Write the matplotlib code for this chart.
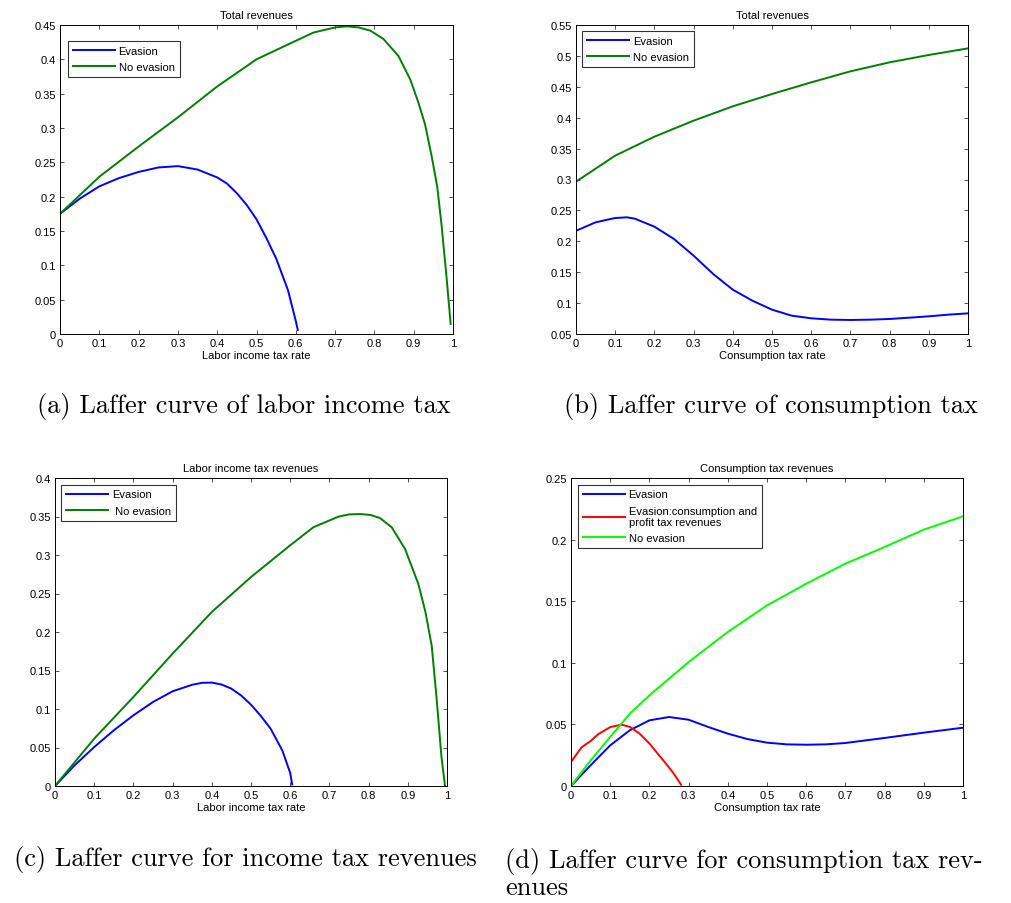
import matplotlib
matplotlib.use("Agg")
import matplotlib.pyplot as plt
from matplotlib.ticker import FuncFormatter

plt.rcParams["font.family"] = ["Liberation Sans", "DejaVu Sans"]

# (a) total revenues vs labor income tax rate
a_x_ev = [0, 0.05, 0.1, 0.15, 0.2, 0.25, 0.3, 0.35, 0.4, 0.425, 0.45, 0.475, 0.5, 0.525, 0.55,
          0.58, 0.6, 0.605]
a_ev = [0.175, 0.197, 0.215, 0.227, 0.236, 0.2425, 0.2445, 0.2395, 0.228, 0.219, 0.205, 0.188,
        0.167, 0.14, 0.11, 0.064, 0.019, 0.006]
a_x_ne = [0, 0.1, 0.2, 0.3, 0.4, 0.5, 0.6, 0.645, 0.7, 0.73, 0.76, 0.79, 0.823, 0.861, 0.891,
          0.912, 0.929, 0.946, 0.96, 0.971, 0.984, 0.994]
a_ne = [0.175, 0.229, 0.273, 0.3155, 0.3605, 0.400, 0.427, 0.439, 0.4465, 0.448, 0.4465, 0.4417,
        0.4296, 0.405, 0.371, 0.337, 0.305, 0.258, 0.214, 0.158, 0.080, 0.0146]

# (b) total revenues vs consumption tax rate
b_x_ev = [0, 0.05, 0.1, 0.13, 0.15, 0.2, 0.25, 0.3, 0.35, 0.4, 0.45, 0.5, 0.55, 0.6, 0.65, 0.7,
          0.75, 0.8, 0.85, 0.9, 0.95, 1.0]
b_ev = [0.217, 0.2307, 0.2377, 0.2388, 0.2366, 0.2237, 0.2037, 0.1768, 0.1471, 0.1217, 0.1039,
        0.0894, 0.0797, 0.0754, 0.0732, 0.0727, 0.0732, 0.0743, 0.0764, 0.0786, 0.0813, 0.0834]
b_x_ne = [0, 0.1, 0.2, 0.3, 0.4, 0.5, 0.6, 0.7, 0.8, 0.9, 1.0]
b_ne = [0.2965, 0.3386, 0.3693, 0.3952, 0.4184, 0.4383, 0.4572, 0.475, 0.4896, 0.5015, 0.5122]

# (c) labor income tax revenues
c_x_ev = [0, 0.05, 0.1, 0.15, 0.2, 0.25, 0.3, 0.35, 0.375, 0.4, 0.425, 0.45, 0.475, 0.5, 0.525,
          0.55, 0.58, 0.6, 0.605]
c_ev = [0, 0.0268, 0.0506, 0.0723, 0.0918, 0.1091, 0.123, 0.1315, 0.134, 0.1343, 0.1318, 0.1264,
        0.1175, 0.1056, 0.091, 0.0745, 0.046, 0.017, 0.002]
c_x_ne = [0, 0.1, 0.2, 0.3, 0.4, 0.5, 0.6, 0.659, 0.723, 0.75, 0.778, 0.805, 0.829, 0.859, 0.893,
          0.927, 0.945, 0.961, 0.974, 0.986, 0.995]
c_ne = [0, 0.0615, 0.1156, 0.1719, 0.226, 0.2714, 0.3126, 0.336, 0.3498, 0.3527, 0.3532, 0.352,
        0.348, 0.336, 0.3078, 0.2623, 0.226, 0.1822, 0.1108, 0.0372, 0.0]

# (d) consumption tax revenues
d_x_ev = [0, 0.05, 0.1, 0.15, 0.2, 0.25, 0.3, 0.35, 0.4, 0.45, 0.5, 0.55, 0.6, 0.65, 0.7, 0.8, 0.9, 1.0]
d_ev = [0, 0.0168, 0.033, 0.0452, 0.0533, 0.056, 0.0538, 0.0479, 0.0425, 0.0381, 0.0352, 0.0338,
        0.0335, 0.0338, 0.0349, 0.039, 0.0433, 0.0473]
d_x_pr = [0, 0.027, 0.05, 0.07, 0.1, 0.129, 0.15, 0.175, 0.2, 0.24, 0.26, 0.281]
d_pr = [0.0195, 0.0314, 0.0365, 0.0422, 0.0478, 0.0498, 0.048, 0.0425, 0.0345, 0.019, 0.011, 0.001]
d_x_ne = [0, 0.05, 0.1, 0.15, 0.2, 0.3, 0.4, 0.5, 0.6, 0.7, 0.8, 0.9, 1.0]
d_ne = [0, 0.0208, 0.0398, 0.0587, 0.0736, 0.1006, 0.125, 0.1466, 0.1642, 0.1805, 0.194, 0.2081, 0.2189]

captions = ["(a) Laffer curve of labor income tax",
            "(b) Laffer curve of consumption tax",
            "(c) Laffer curve for income tax revenues",
            "(d) Laffer curve for consumption tax rev-\nenues"]

BLUE, DGREEN, RED, LGREEN = "#0000ff", "#008000", "#ff0000", "#00ff00"
W, H = 1011, 904

fig = plt.figure(figsize=(W / 100, H / 100), dpi=100)


def make_ax(left, top, right, bottom, ylim, yticks, title, xlabel):
    ax = fig.add_axes([left / W, 1 - bottom / H, (right - left) / W, (bottom - top) / H])
    ax.set_xlim(0, 1)
    ax.set_ylim(*ylim)
    ax.set_xticks([i / 10 for i in range(11)])
    ax.set_yticks(yticks)
    ax.xaxis.set_major_formatter(FuncFormatter(lambda v, p: "%g" % round(v, 2)))
    ax.yaxis.set_major_formatter(FuncFormatter(lambda v, p: "%g" % round(v, 2)))
    ax.tick_params(direction="in", length=3, width=0.6, top=True, right=True,
                   labelsize=8, pad=3, color="#333333")
    for s in ax.spines.values():
        s.set_linewidth(0.7)
    ax.set_title(title, fontsize=8, pad=5)
    ax.set_xlabel(xlabel, fontsize=8, labelpad=1)
    return ax


def add_legend(ax, dx, dy):
    bb = ax.get_window_extent()
    leg = ax.legend(loc="upper left", bbox_to_anchor=(dx / bb.width, 1 - dy / bb.height),
                    borderaxespad=0, fontsize=8, frameon=True, fancybox=False,
                    edgecolor="black", handlelength=3.8, handletextpad=0.35,
                    labelspacing=0.55, borderpad=0.45)
    leg.get_frame().set_linewidth(0.8)


lw = 1.4

ax = make_ax(60, 26, 453, 335, (0, 0.45), [i * 0.05 for i in range(10)],
             "Total revenues", "Labor income tax rate")
ax.plot(a_x_ev, a_ev, color=BLUE, lw=lw, label="Evasion")
ax.plot(a_x_ne, a_ne, color=DGREEN, lw=lw, label="No evasion")
add_legend(ax, 7.5, 16)

ax = make_ax(576, 26, 968, 335, (0.05, 0.55), [0.05 + i * 0.05 for i in range(11)],
             "Total revenues", "Consumption tax rate")
ax.plot(b_x_ev, b_ev, color=BLUE, lw=lw, label="Evasion")
ax.plot(b_x_ne, b_ne, color=DGREEN, lw=lw, label="No evasion")
add_legend(ax, 6, 6)

ax = make_ax(55, 479, 447, 787, (0, 0.4), [i * 0.05 for i in range(9)],
             "Labor income tax revenues", "Labor income tax rate")
ax.plot(c_x_ev, c_ev, color=BLUE, lw=lw, label="Evasion")
ax.plot(c_x_ne, c_ne, color=DGREEN, lw=lw, label=" No evasion")
add_legend(ax, 6, 6.5)

ax = make_ax(571, 479, 963, 787, (0, 0.25), [i * 0.05 for i in range(6)],
             "Consumption tax revenues", "Consumption tax rate")
ax.plot(d_x_ev, d_ev, color=BLUE, lw=lw, label="Evasion")
ax.plot(d_x_pr, d_pr, color=RED, lw=lw, label="Evasion:consumption and\nprofit tax revenues")
ax.plot(d_x_ne, d_ne, color=LGREEN, lw=lw, label="No evasion")
add_legend(ax, 6.5, 6.5)

cap = dict(fontfamily="cmr10", fontsize=19, va="center")
fig.text(244 / W, 1 - 407 / H, captions[0], ha="center", **cap)
fig.text(771 / W, 1 - 407 / H, captions[1], ha="center", **cap)
fig.text(245 / W, 1 - 860 / H, captions[2], ha="center", **cap)
fig.text(505 / W, 1 - 874 / H, captions[3], ha="left", linespacing=1.05, **cap)

fig.savefig("out.png", dpi=100)
